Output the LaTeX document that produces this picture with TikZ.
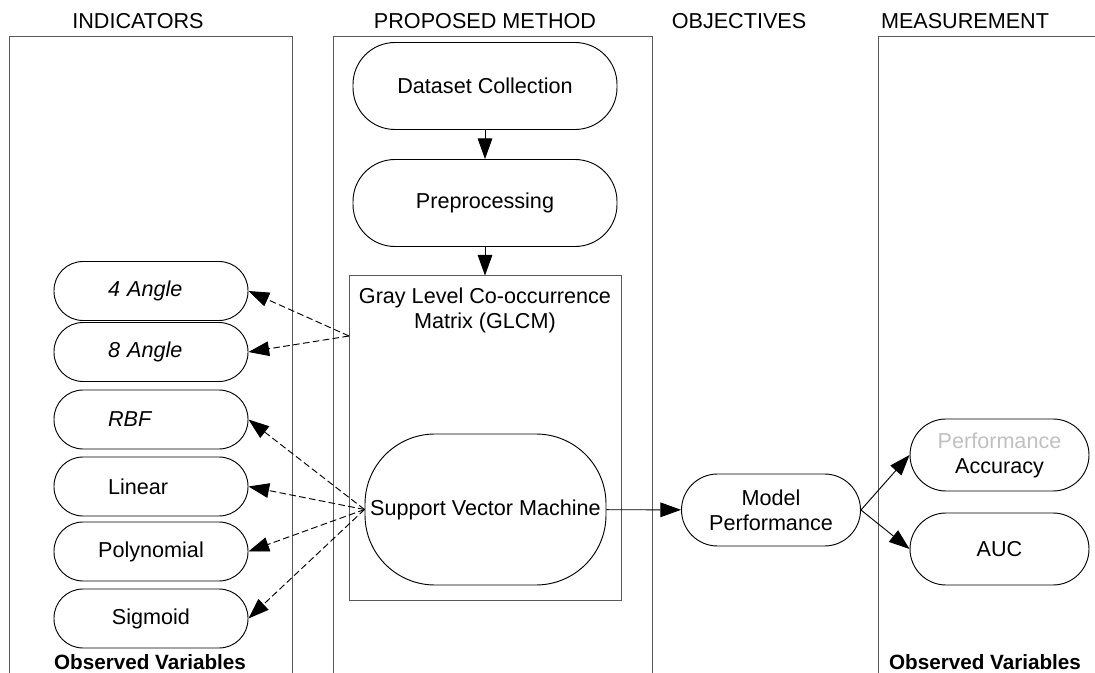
\documentclass[tikz,border=0pt]{standalone}
\usepackage{fontspec}
\setmainfont{Liberation Sans}
\usetikzlibrary{arrows.meta}
\definecolor{faded}{RGB}{192,192,192}
\tikzset{
  panel/.style={draw=black!65, line width=0.75pt},
  head/.style={anchor=base, inner sep=0pt, font=\fontsize{16.2}{18.75}\selectfont},
  stadium/.style={draw, line width=0.7pt, align=center, inner sep=2pt, font=\fontsize{16.2}{18.75}\selectfont},
  stage/.style={stadium, minimum width=264*\px, minimum height=87*\px, rounded corners=42*\px},
  target/.style={stadium, minimum width=179*\px, minimum height=72*\px, rounded corners=36*\px},
  kernel/.style={stadium, minimum width=194*\px, minimum height=59*\px, rounded corners=29*\px},
  kernelleft/.style={kernel, text width=64.5pt, align=left},
  kernelit/.style={kernelleft, font=\fontsize{16.2}{18.75}\selectfont\itshape},
  glcmbox/.style={draw=black!65, line width=0.75pt, minimum width=272*\px, minimum height=324*\px, inner sep=0pt},
  plain/.style={align=center, inner sep=0pt, font=\fontsize{16.2}{18.75}\selectfont},
  obs/.style={anchor=base, inner sep=0pt, font=\fontsize{15.5}{18.75}\selectfont\bfseries},
  flow/.style={-{Triangle[length=15.5pt,width=11pt]}, line width=0.7pt},
  dflow/.style={flow, dash pattern=on 5pt off 2.5pt},
}
\begin{document}
\begin{tikzpicture}[x=0.75pt, y=-0.75pt]
\pgfmathsetlengthmacro\px{0.75pt}
\useasboundingbox (0,0) rectangle (1095,673);
\draw[panel] (9,690) -- (9,37) -- (292,37) -- (292,690);
\draw[panel] (333,690) -- (333,37) -- (652,37) -- (652,690);
\draw[panel] (878,690) -- (878,37) -- (1110,37);
\node[head] (hind) at (138,29) {INDICATORS};
\node[head] (hmeth) at (485,29) {PROPOSED METHOD};
\node[head] (hobj) at (739,29) {OBJECTIVES};
\node[head] (hmeas) at (965,29) {MEASUREMENT};
\node[stage] (data) at (485,86) {Dataset Collection};
\node[stage] (prep) at (485,203) {Preprocessing};
\node[glcmbox] (glcm) at (485,438) {};
\node[plain] (glcmlbl) at (485,310.5) {Gray Level Co-occurrence\\Matrix (GLCM)};
\coordinate (gout) at (349,336);
\node[stadium, minimum width=241*\px, minimum height=151*\px, rounded corners=70*\px] (svm) at (485.5,509.5) {Support Vector Machine};
\node[target] (mp) at (771,510) {Model\\Performance};
\node[target] (acc) at (999.5,455) {\textcolor{faded}{Performance}\\Accuracy};
\node[target] (auc) at (999.5,549) {AUC};
\foreach \nm/\yy/\sty/\txt in {a4/291/kernelit/4 Angle, a8/352/kernelit/8 Angle, rbf/419.5/kernelit/RBF, lin/486.5/kernelleft/Linear, poly/551.5/kernel/Polynomial, sig/618.5/kernel/Sigmoid}
  \node[\sty] (\nm) at (151,\yy) {\txt};
\node[obs] (obsl) at (150,669) {Observed Variables};
\node[obs] (obsr) at (985,669) {Observed Variables};
\draw[flow] (data) -- (prep);
\draw[flow] (prep) -- (glcm);
\draw[flow] (svm) -- (mp);
\draw[flow] (mp.east) -- (acc.west);
\draw[flow] (mp.east) -- (auc.west);
\foreach \k in {a4,a8} \draw[dflow] (gout) -- (\k.east);
\foreach \k in {rbf,lin,poly,sig} \draw[dflow] (svm.west) -- (\k.east);
\end{tikzpicture}
\end{document}
